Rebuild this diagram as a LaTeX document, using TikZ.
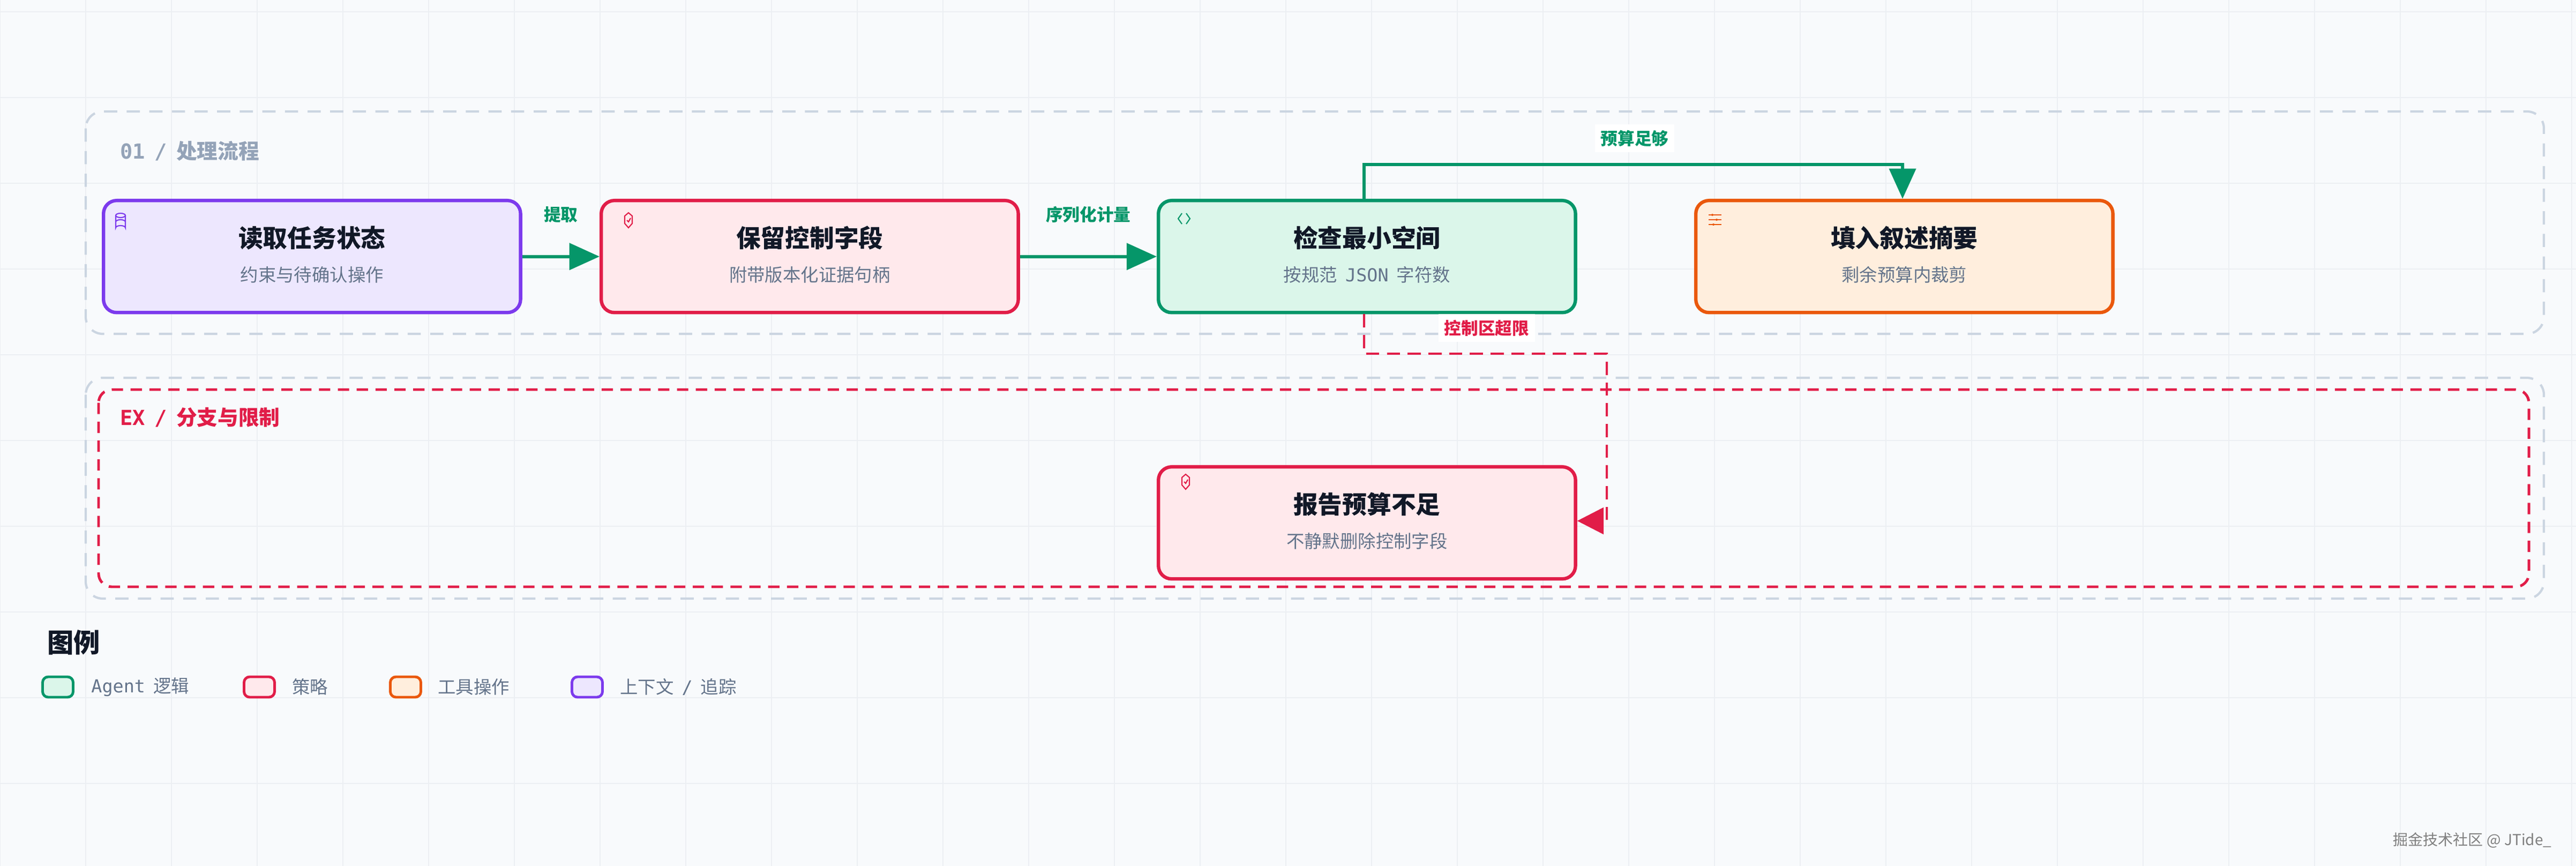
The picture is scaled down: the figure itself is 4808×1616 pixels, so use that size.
\documentclass[tikz,border=0pt]{standalone}
\usepackage{fontspec}
\setmainfont{Noto Sans CJK SC}
\newfontfamily\mono{DejaVu Sans Mono}
\usetikzlibrary{arrows.meta}
\definecolor{bg}{HTML}{F8FAFC}
\definecolor{gridc}{HTML}{ECEFF3}
\definecolor{grp}{HTML}{CBD5E1}
\definecolor{grn}{HTML}{059669}
\definecolor{grnf}{HTML}{DBF6EA}
\definecolor{red}{HTML}{E11D48}
\definecolor{redf}{HTML}{FFE9EC}
\definecolor{org}{HTML}{EA580C}
\definecolor{orgf}{HTML}{FFEEDD}
\definecolor{pur}{HTML}{7C3AED}
\definecolor{purf}{HTML}{EDE7FE}
\definecolor{dark}{HTML}{111827}
\definecolor{sub}{HTML}{64748B}
\definecolor{glab}{HTML}{94A3B8}
\newcommand{\gap}{\hspace{0.45em}}
\begin{document}
\begin{tikzpicture}[x=0.01cm,y=-0.01cm,
  box/.style={draw,line width=1.8pt,rounded corners=7pt,minimum width=7.78cm,minimum height=2.09cm,anchor=north west},
  ttl/.style={font=\fontsize{13}{15}\selectfont\bfseries,text=dark},
  stl/.style={font=\fontsize{9.5}{11}\selectfont,text=sub},
  elab/.style={font=\fontsize{9}{10}\selectfont\bfseries,fill=white,inner sep=3pt},
  arr/.style={line width=1.8pt,-{Triangle[length=16pt,width=14pt]}},
  sw/.style={draw,line width=1.4pt,rounded corners=3pt,minimum width=0.57cm,minimum height=0.38cm,inner sep=0pt},
  ltx/.style={font=\fontsize{9.5}{11}\selectfont,text=sub,anchor=west}]
\fill[bg] (0,0) rectangle (4808,1616);
\useasboundingbox (0,0) rectangle (4808,1616);
\foreach \i in {0,160,...,4800} \draw[gridc,line width=0.5pt] (\i,0) -- (\i,1616);
\foreach \j in {22,182,...,1616} \draw[gridc,line width=0.5pt] (0,\j) -- (4808,\j);
% groups
\draw[grp,line width=1.2pt,dash pattern=on 7pt off 5pt,rounded corners=9pt] (160,208) rectangle (4748,623);
\node[anchor=west,text=glab,font=\fontsize{11}{13}\selectfont\bfseries] (g1) at (212,282) {{\mono 01\gap/}\gap 处理流程};
\draw[grp,line width=1.2pt,dash pattern=on 7pt off 5pt,rounded corners=9pt] (160,705) rectangle (4748,1117);
\draw[red,line width=1.4pt,dash pattern=on 6pt off 4pt,rounded corners=7pt] (184,727) rectangle (4720,1095);
\node[anchor=west,text=red,font=\fontsize{11}{13}\selectfont\bfseries] (g2) at (212,779) {{\mono EX\gap/}\gap 分支与限制};
% nodes
\node[box,draw=pur,fill=purf] (n1) at (190,371) {};
\node[box,draw=red,fill=redf] (n2) at (1119,371) {};
\node[box,draw=grn,fill=grnf] (n3) at (2159,371) {};
\node[box,draw=org,fill=orgf] (n4) at (3162,371) {};
\node[box,draw=red,fill=redf] (n5) at (2159,868) {};
\foreach \n/\t/\s in {n1/读取任务状态/约束与待确认操作, n2/保留控制字段/附带版本化证据句柄, n3/检查最小空间/{按规范\gap{\mono JSON}\gap 字符数}, n4/填入叙述摘要/剩余预算内裁剪, n5/报告预算不足/不静默删除控制字段}{
  \node[ttl] (\n t) at ([yshift=-0.73cm]\n.north) {\t};
  \node[stl] (\n s) at ([yshift=-1.42cm]\n.north) {\s};
}
% icons
\draw[pur,line width=0.6pt] (225,402) ellipse (9 and 4);
\draw[pur,line width=0.6pt] (216,402) -- (216,425) arc[start angle=180,end angle=360,x radius=9,y radius=4] -- (234,402);
\draw[pur,line width=0.6pt] (216,414) arc[start angle=180,end angle=360,x radius=9,y radius=4];
\foreach \px/\py in {1166/403,2206/891}{
  \draw[red,line width=0.6pt] (\px,\py) -- (\px+7,\py-6) -- (\px+14,\py) -- (\px+14,\py+14) -- (\px+7,\py+22) -- (\px,\py+14) -- cycle;
  \draw[red,line width=0.6pt] (\px+4,\py+8) -- (\px+7,\py+11) -- (\px+11,\py+4);
}
\draw[grn,line width=0.6pt] (2206,398) -- (2199,408) -- (2206,418);
\draw[grn,line width=0.6pt] (2214,398) -- (2221,408) -- (2214,418);
\foreach \yy/\xx in {401/3196,410/3204,419/3198}{
  \draw[org,line width=0.6pt] (3189,\yy) -- (3213,\yy);
  \fill[org] (\xx,\yy) circle (2);
}
% edges
\draw[arr,grn] (n1.east) -- node[elab,text=grn,above=14pt,fill=none] {提取} (n2.west);
\draw[arr,grn] (n2.east) -- node[elab,text=grn,above=14pt,fill=none] {序列化计量} (n3.west);
\coordinate (c1) at (2546,307);
\coordinate (c2) at (3551,307);
\draw[arr,grn] (n3.north -| c1) -- (c1) -- (c2) -- (n4.north -| c2);
\node[elab,text=grn] (l3) at (3051,258) {预算足够};
\coordinate (d1) at (2546,660);
\coordinate (d2) at (2999,660);
\coordinate (d3) at (2999,972);
\draw[red,line width=1.4pt,dash pattern=on 7pt off 4pt,-{Triangle[length=14pt,width=14pt]}] (n3.south -| d1) -- (d1) -- (d2) -- (d3) -- (n5.east |- d3);
\node[elab,text=red] (l4) at (2775,612) {控制区超限};
% legend
\node[anchor=west,font=\fontsize{14}{16}\selectfont\bfseries,text=dark] (lg) at (76,1199) {图例};
\node[sw,draw=grn,fill=grnf] (s1) at (108,1282) {};
\node[ltx] (t1) at (158,1282) {{\mono Agent}\gap 逻辑};
\node[sw,draw=red,fill=redf] (s2) at (484,1282) {};
\node[ltx] (t2) at (533,1282) {策略};
\node[sw,draw=org,fill=orgf] (s3) at (757,1282) {};
\node[ltx] (t3) at (805,1282) {工具操作};
\node[sw,draw=pur,fill=purf] (s4) at (1096,1282) {};
\node[ltx] (t4) at (1145,1282) {上下文\gap{\mono /}\gap 追踪};
\node[anchor=east,font=\fontsize{8}{9}\selectfont,text=gray] (wm) at (4775,1568) {掘金技术社区 @ JTide\_};
\end{tikzpicture}
\end{document}
